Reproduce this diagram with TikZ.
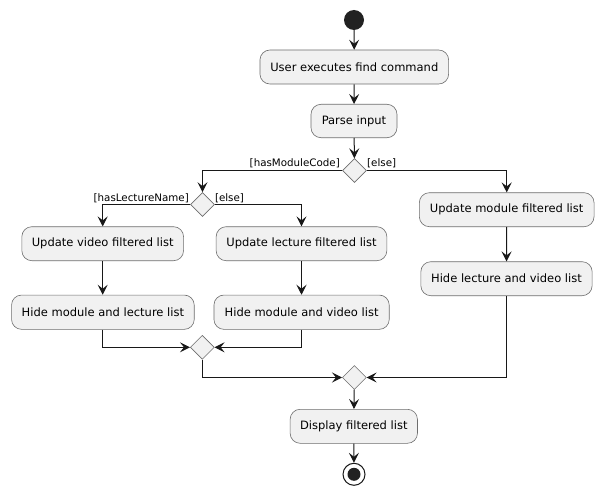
\documentclass[tikz,border=0pt]{standalone}
\usepackage{fontspec}
\setmainfont{DejaVu Sans}
\usetikzlibrary{shapes.geometric,arrows.meta}
\definecolor{boxfill}{HTML}{F1F1F1}
\definecolor{ink}{HTML}{181818}
\definecolor{rim}{HTML}{6E6E6E}
\definecolor{startfill}{HTML}{222222}
\begin{document}
\begin{tikzpicture}[x=1pt,y=-1pt,
  act/.style={draw=rim, line width=0.6pt, fill=boxfill, rounded corners=10pt,
    minimum height=34pt, inner sep=0pt, font=\fontsize{11.5}{13}\selectfont},
  choice/.style={draw=rim, line width=0.6pt, fill=boxfill, diamond,
    minimum width=24pt, minimum height=24pt, inner sep=0pt},
  guard/.style={inner sep=0pt, font=\fontsize{10.3}{12}\selectfont},
  flow/.style={draw=ink, line width=1pt, -{Stealth[length=10pt,width=10pt,inset=4pt]}},
  plain/.style={draw=ink, line width=1pt}
]
\useasboundingbox (0,0) rectangle (603,495);
\fill[white] (0,0) rectangle (603,495);

\node[circle, fill=startfill, minimum size=20pt, inner sep=0pt] (start) at (354,20) {};
\node[act, minimum width=188.7pt] (b1) at (354.3,67) {User executes find command};
\node[act, minimum width=86pt, minimum height=33.4pt] (b2) at (354,121) {Parse input};
\node[choice] (d1) at (354.5,170.5) {};

\node[choice] (d2) at (202.5,204.5) {};
\node[act, minimum width=161.7pt] (vfl) at (102.7,243.7) {Update video filtered list};
\node[act, minimum width=170.7pt] (lfl) at (301.5,243.7) {Update lecture filtered list};
\node[act, minimum width=182.7pt, minimum height=34.3pt] (hml) at (102.9,312.2) {Hide module and lecture list};
\node[act, minimum width=175.3pt, minimum height=34.3pt] (hmv) at (301.6,312.2) {Hide module and video list};
\node[choice] (m2) at (202.3,347.3) {};

\node[act, minimum width=174.7pt] (mfl) at (506.7,209.7) {Update module filtered list};
\node[act, minimum width=171.3pt] (hlv) at (506.5,278.7) {Hide lecture and video list};

\node[choice] (m3) at (354.3,377.5) {};
\node[act, minimum width=127.3pt] (dfl) at (353.8,426.3) {Display filtered list};

\node[circle, draw=ink, line width=1pt, fill=white, minimum size=22pt, inner sep=0pt] (stop) at (354,474.3) {};
\node[circle, fill=startfill, minimum size=13pt, inner sep=0pt] (stopdot) at (stop.center) {};

\node[guard, anchor=base east] (g1) at (340,166) {[hasModuleCode]};
\node[guard, anchor=base west] (g2) at (367,166) {[else]};
\node[guard, anchor=base east] (g3) at (189,201.5) {[hasLectureName]};
\node[guard, anchor=base west] (g4) at (214.8,201.5) {[else]};

\draw[flow] (start) -- (b1);
\draw[flow] (b1) -- (b2);
\draw[flow] (b2) -- (d1);
\draw[flow] (d1.west) -| (d2.north);
\draw[flow] (d1.east) -| (mfl.north);
\draw[flow] (d2.west) -| (vfl.north);
\draw[flow] (d2.east) -| (lfl.north);
\draw[flow] (vfl) -- (vfl.south |- hml.north);
\draw[flow] (lfl) -- (lfl.south |- hmv.north);
\draw[flow] (mfl) -- (hlv);
\draw[flow] (vfl.south |- hml.south) |- (m2.west);
\draw[flow] (lfl.south |- hmv.south) |- (m2.east);
\draw[flow] (m2.south) |- (m3.west);
\draw[flow] (hlv.south) |- (m3.east);
\draw[flow] (m3) -- (dfl);
\draw[flow] (dfl) -- (stop);
\end{tikzpicture}
\end{document}
